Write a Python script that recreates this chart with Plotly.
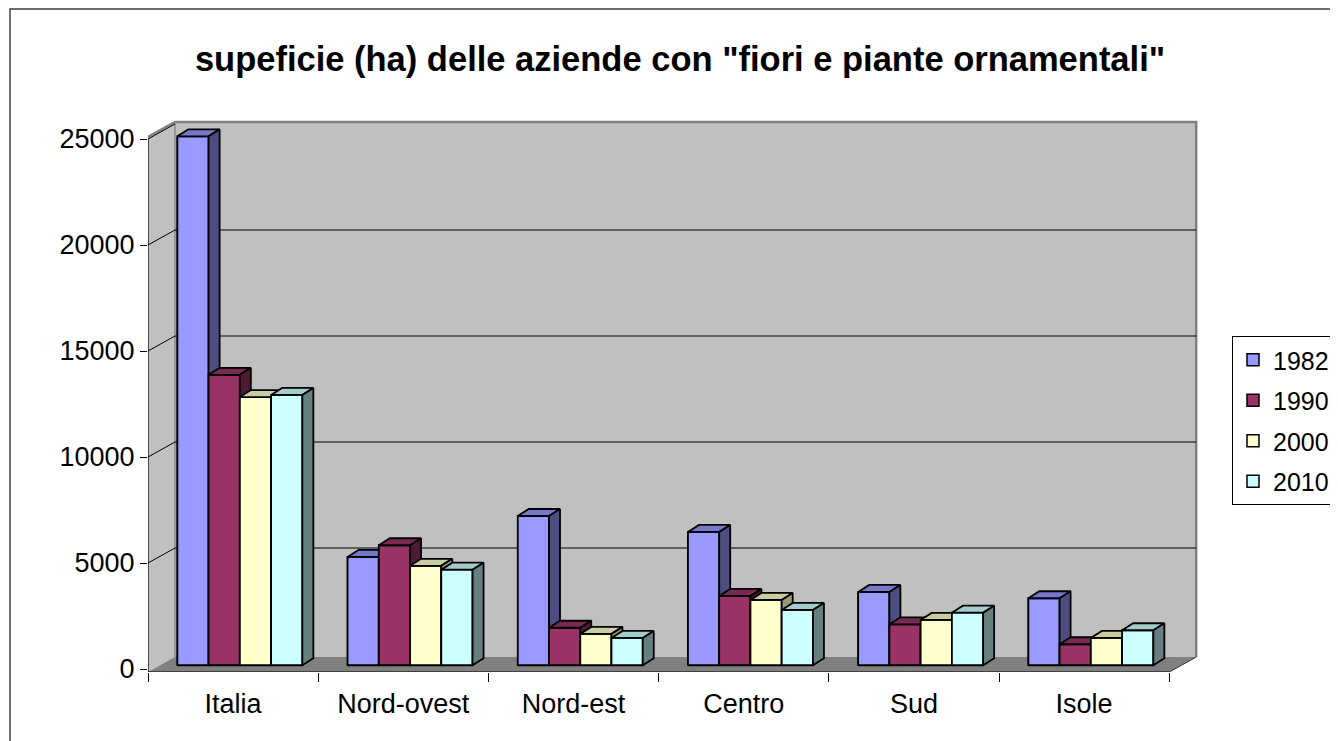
import plotly.graph_objects as go

# data
categories = ["Italia", "Nord-ovest", "Nord-est", "Centro", "Sud", "Isole"]
years = ["1982", "1990", "2000", "2010"]
ha_1982 = [24950, 5110, 7040, 6290, 3460, 3160]
ha_1990 = [13700, 5660, 1770, 3270, 1930, 990]
ha_2000 = [12650, 4690, 1480, 3080, 2140, 1290]
ha_2010 = [12750, 4510, 1290, 2610, 2480, 1650]
y_ticks = [0, 5000, 10000, 15000, 20000, 25000]

series = [ha_1982, ha_1990, ha_2000, ha_2010]
front_col = ["#9999FF", "#993366", "#FFFFCC", "#CCFFFF"]
top_col = ["#7777CC", "#7A2952", "#CCCCA3", "#A3CCCC"]
side_col = ["#4D4D80", "#4D1A33", "#999977", "#668080"]

# page geometry (px) -> data units; the html body adds an 8px margin
OFF = 8
W, H = 1338, 741
ML, MR, MT, MB = 148 - OFF, 138 + OFF, 110 - OFF, 69 + OFF
px_x = 170.2          # px per category
px_y = 21.2 / 1000    # px per hectare
y0_px = 669 - OFF     # figure row of value 0 on the front plane
plot_w = W - ML - MR
plot_h = H - MT - MB
x_range = [-0.5, -0.5 + plot_w / px_x]
y_range = [-(H - MB - y0_px) / px_y, (y0_px - MT) / px_y]


def paper_x(px):
    return (px - OFF - ML) / plot_w


def paper_y(py):
    return ((H - MB) - (py - OFF)) / plot_h


# 3d depth of the walls and the bars
wdx, wdy = 27 / px_x, 15 / px_y
f = 0.25
bx, by = f * wdx, f * wdy
bdx, bdy = 11 / px_x, 7 / px_y
bw = 31.25 / px_x
wall_top = 25100
floor_y = y_range[0]

fig = go.Figure()

# legend entries (plain bars, covered by the 3d faces drawn on top)
for k, vals in enumerate(series):
    fig.add_trace(go.Bar(
        x=list(range(len(categories))), y=vals, base=by, width=bw,
        offset=-2 * bw + k * bw + bx, name=years[k],
        marker=dict(color=front_col[k], line=dict(color="black", width=1.5)),
        legendgroup=years[k], hoverinfo="skip"))


def poly(xs, ys, color):
    fig.add_trace(go.Scatter(
        x=xs + [xs[0]], y=ys + [ys[0]], mode="lines", fill="toself",
        fillcolor=color, line=dict(color="black", width=1.8),
        showlegend=False, hoverinfo="skip"))


for j in range(len(categories)):
    for k, vals in enumerate(series):
        v = vals[j]
        xl = j - 2 * bw + k * bw + bx
        xr = xl + bw
        yt = by + v
        poly([xl, xr, xr, xl], [by, by, yt, yt], front_col[k])
        poly([xl, xr, xr + bdx, xl + bdx], [yt, yt, yt + bdy, yt + bdy], top_col[k])
        poly([xr, xr + bdx, xr + bdx, xr], [by, by + bdy, yt + bdy, yt], side_col[k])

shapes = []
# floor
shapes.append(dict(type="path", xref="x", yref="y", layer="below",
                   path=f"M-0.5,{floor_y} L5.5,{floor_y} L{5.5 + wdx},{floor_y + wdy} "
                        f"L{-0.5 + wdx},{floor_y + wdy} Z",
                   fillcolor="#808080", line=dict(color="#808080", width=1)))
# back wall
shapes.append(dict(type="rect", xref="x", yref="y", layer="below",
                   x0=-0.5 + wdx, x1=5.5 + wdx, y0=floor_y + wdy, y1=wall_top + wdy,
                   fillcolor="#C0C0C0", line=dict(width=0)))
# side wall
shapes.append(dict(type="path", xref="x", yref="y", layer="below",
                   path=f"M-0.5,{floor_y} L{-0.5 + wdx},{floor_y + wdy} "
                        f"L{-0.5 + wdx},{wall_top + wdy} L-0.5,{wall_top} Z",
                   fillcolor="#C0C0C0", line=dict(width=0)))
# wall edges
shapes.append(dict(type="path", xref="x", yref="y", layer="below",
                   path=f"M-0.5,{wall_top} L{-0.5 + wdx},{wall_top + wdy} "
                        f"L{5.5 + wdx},{wall_top + wdy} L{5.5 + wdx},{floor_y + wdy}",
                   line=dict(color="#808080", width=2.5)))
shapes.append(dict(type="line", xref="x", yref="y", layer="below",
                   x0=-0.5 + wdx, x1=-0.5 + wdx, y0=floor_y + wdy, y1=wall_top + wdy,
                   line=dict(color="#8C8C8C", width=1.5)))
shapes.append(dict(type="line", xref="x", yref="y", layer="below",
                   x0=5.5, x1=5.5 + wdx, y0=floor_y, y1=floor_y + wdy,
                   line=dict(color="#404040", width=1)))
# gridlines on the back wall and slanted ticks on the side wall
for t in y_ticks[1:-1]:
    shapes.append(dict(type="line", xref="x", yref="y", layer="below",
                       x0=-0.5 + wdx, x1=5.5 + wdx, y0=t + wdy, y1=t + wdy,
                       line=dict(color="black", width=1)))
for t in y_ticks[1:]:
    shapes.append(dict(type="line", xref="x", yref="y", layer="below",
                       x0=-0.5, x1=-0.5 + wdx, y0=t, y1=t + wdy,
                       line=dict(color="black", width=1)))
# value axis and category axis lines
shapes.append(dict(type="line", xref="x", yref="y",
                   x0=-0.5, x1=-0.5, y0=floor_y, y1=25000,
                   line=dict(color="black", width=1.2)))
shapes.append(dict(type="line", xref="x", yref="y",
                   x0=-0.5, x1=5.5, y0=floor_y, y1=floor_y,
                   line=dict(color="black", width=1.2)))
# outer chart frame
shapes.append(dict(type="rect", xref="paper", yref="paper",
                   x0=paper_x(10), x1=paper_x(W + 20),
                   y0=paper_y(H + 20), y1=paper_y(9),
                   line=dict(color="#404040", width=1.5)))

font = "Liberation Sans, Arial, sans-serif"
fig.update_layout(
    width=W, height=H,
    margin=dict(l=ML, r=MR, t=MT, b=MB, autoexpand=False),
    paper_bgcolor="white", plot_bgcolor="rgba(0,0,0,0)",
    barmode="overlay",
    font=dict(family=font, size=24, color="black"),
    title=dict(text='<b>supeficie (ha) delle aziende con "fiori e piante ornamentali"</b>',
               x=(680 - OFF) / W, xanchor="center", y=1 - (59 - OFF) / H, yanchor="middle",
               font=dict(family=font, size=34.5, color="black")),
    shapes=shapes,
    showlegend=True,
    legend=dict(x=paper_x(1232), xanchor="left",
                y=paper_y(336), yanchor="top",
                bordercolor="black", borderwidth=1, bgcolor="white",
                font=dict(family=font, size=25), traceorder="grouped",
                tracegroupgap=5),
    xaxis=dict(range=x_range, showgrid=False, zeroline=False, showline=False,
               tickmode="array", tickvals=[i - 0.5 for i in range(len(categories) + 1)],
               ticktext=[""] * (len(categories) + 1), ticks="outside", ticklen=9,
               tickcolor="black", tickwidth=1),
    xaxis2=dict(range=x_range, overlaying="x", anchor="y", side="bottom",
                showgrid=False, zeroline=False, showline=False,
                tickmode="array", tickvals=list(range(len(categories))),
                ticktext=categories, ticks="outside", ticklen=8,
                tickcolor="rgba(0,0,0,0)", tickfont=dict(family=font, size=27)),
    yaxis=dict(range=y_range, showgrid=False, zeroline=False, showline=False,
               tickmode="array", tickvals=y_ticks, ticktext=[str(t) for t in y_ticks],
               ticks="outside", ticklen=7,
               tickcolor="black", tickwidth=1, tickfont=dict(family=font, size=27)),
)
# a dummy trace so that xaxis2 is drawn
fig.add_trace(go.Scatter(x=[None], y=[None], xaxis="x2", yaxis="y",
                         showlegend=False, hoverinfo="skip"))

fig.write_html("out.html")
